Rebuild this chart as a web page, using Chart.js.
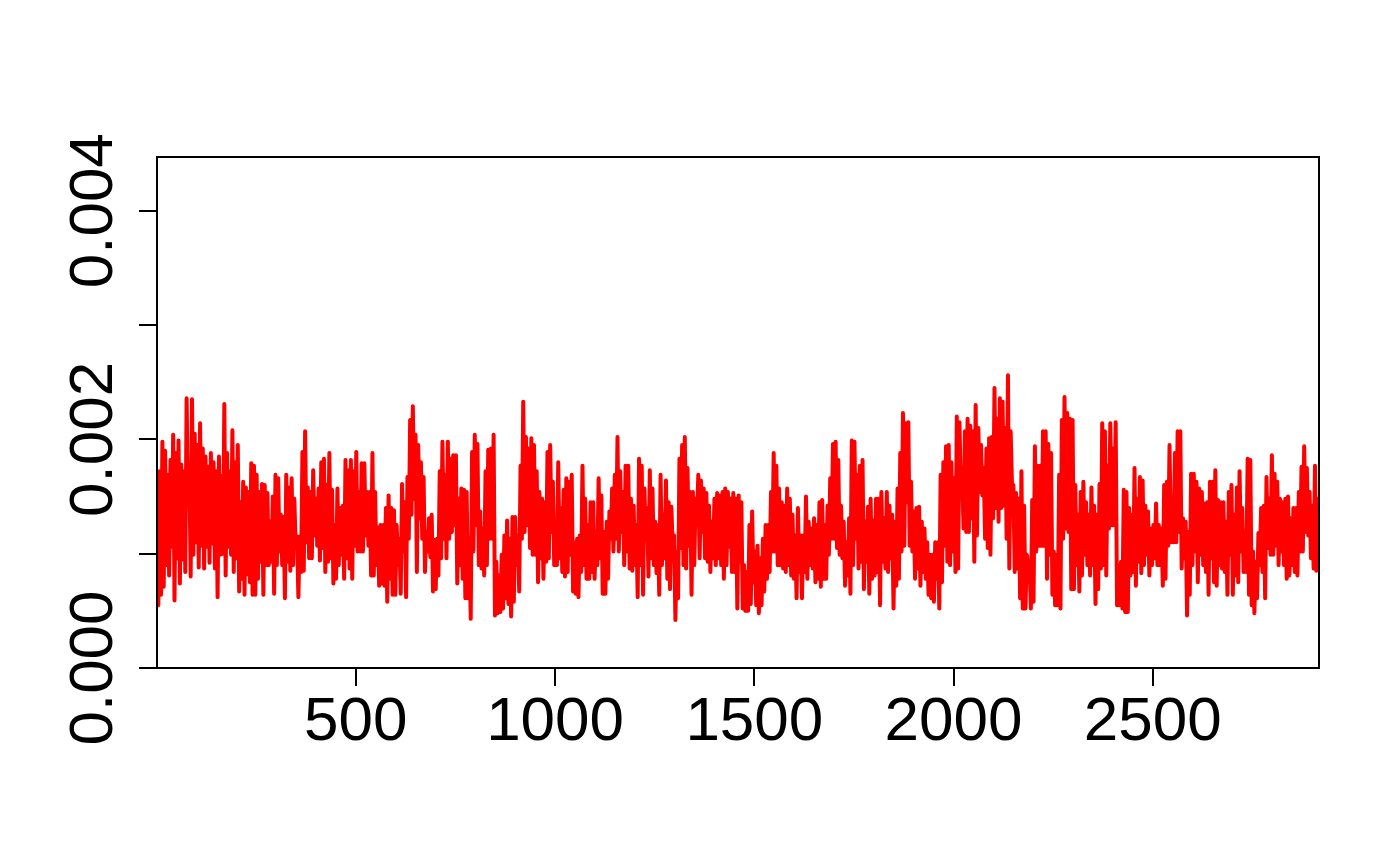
<!DOCTYPE html>
<html>
<head>
<meta charset="utf-8">
<script src="https://cdn.jsdelivr.net/npm/chart.js@4/dist/chart.umd.min.js"></script>
<style>
  html, body { margin: 0; padding: 0; background: #fff; }
  canvas { display: block; }
</style>
</head>
<body>
<canvas id="vol-chart" width="1400" height="865"></canvas>
<script>
// values, alternating local highs / lows, left to right
const vol = [
  0.00157,0.00055,0.00172,0.00064,0.00198,0.00071,0.00190,0.00090,0.00169,0.00081,0.00182,0.00106,0.00204,0.00059,0.00188,0.00096,0.00199,0.00074,0.00178,0.00095,0.00172,0.00084,0.00236,0.00148,0.00177,0.00080,0.00235,0.00099,0.00205,0.00110,0.00195,0.00088,0.00214,0.00107,0.00192,0.00087,0.00185,0.00106,0.00176,0.00092,0.00188,0.00109,0.00180,0.00087,0.00172,0.00062,0.00185,0.00099,0.00168,0.00100,0.00231,0.00081,0.00188,0.00106,0.00172,0.00099,0.00208,0.00084,0.00180,0.00096,0.00195,0.00067,0.00145,0.00078,0.00163,0.00064,0.00158,0.00082,0.00154,0.00075,0.00179,0.00064,
  0.00177,0.00064,0.00169,0.00078,0.00154,0.00093,0.00161,0.00064,0.00160,0.00090,0.00153,0.00090,0.00128,0.00093,0.00150,0.00065,0.00169,0.00090,0.00166,0.00102,0.00134,0.00090,0.00132,0.00061,0.00169,0.00093,0.00158,0.00085,0.00166,0.00090,0.00148,0.00106,0.00115,0.00062,0.00115,0.00084,0.00189,0.00085,0.00207,0.00110,0.00158,0.00096,0.00154,0.00096,0.00173,0.00116,0.00148,0.00107,0.00157,0.00094,0.00180,0.00105,0.00183,0.00084,0.00160,0.00093,0.00188,0.00096,0.00156,0.00074,0.00125,0.00078,0.00157,0.00090,0.00140,0.00099,0.00142,0.00078,0.00182,0.00096,0.00173,0.00087,
  0.00182,0.00078,0.00172,0.00107,0.00189,0.00102,0.00154,0.00102,0.00179,0.00102,0.00179,0.00116,0.00154,0.00107,0.00154,0.00081,0.00188,0.00081,0.00154,0.00090,0.00123,0.00072,0.00125,0.00074,0.00125,0.00072,0.00140,0.00058,0.00151,0.00078,0.00140,0.00064,0.00138,0.00064,0.00125,0.00090,0.00113,0.00065,0.00161,0.00102,0.00145,0.00062,0.00167,0.00113,0.00217,0.00134,0.00229,0.00148,0.00204,0.00084,0.00195,0.00131,0.00180,0.00113,0.00167,0.00084,0.00119,0.00102,0.00131,0.00097,0.00134,0.00067,0.00112,0.00069,0.00113,0.00081,0.00172,0.00096,0.00198,0.00113,0.00169,0.00096,
  0.00198,0.00113,0.00183,0.00119,0.00186,0.00125,0.00186,0.00074,0.00148,0.00090,0.00157,0.00078,0.00156,0.00061,0.00154,0.00061,0.00113,0.00043,0.00189,0.00102,0.00204,0.00125,0.00196,0.00090,0.00137,0.00087,0.00122,0.00081,0.00172,0.00090,0.00191,0.00113,0.00192,0.00113,0.00204,0.00046,0.00093,0.00048,0.00081,0.00049,0.00099,0.00052,0.00116,0.00061,0.00129,0.00056,0.00113,0.00045,0.00132,0.00058,0.00132,0.00090,0.00116,0.00067,0.00177,0.00113,0.00233,0.00119,0.00202,0.00125,0.00192,0.00105,0.00201,0.00099,0.00195,0.00099,0.00172,0.00075,0.00154,0.00096,0.00148,0.00078,
  0.00145,0.00093,0.00189,0.00096,0.00195,0.00119,0.00163,0.00090,0.00125,0.00090,0.00180,0.00096,0.00140,0.00084,0.00156,0.00080,0.00166,0.00084,0.00163,0.00099,0.00169,0.00067,0.00110,0.00065,0.00113,0.00062,0.00116,0.00084,0.00177,0.00090,0.00148,0.00078,0.00125,0.00078,0.00145,0.00084,0.00145,0.00078,0.00119,0.00090,0.00166,0.00096,0.00151,0.00065,0.00119,0.00065,0.00128,0.00078,0.00137,0.00113,0.00157,0.00102,0.00169,0.00113,0.00202,0.00102,0.00172,0.00119,0.00154,0.00090,0.00177,0.00102,0.00177,0.00087,0.00148,0.00085,0.00142,0.00090,0.00125,0.00062,0.00183,0.00090,
  0.00177,0.00064,0.00157,0.00113,0.00140,0.00080,0.00173,0.00096,0.00157,0.00090,0.00128,0.00083,0.00125,0.00064,0.00169,0.00090,0.00134,0.00096,0.00164,0.00078,0.00145,0.00069,0.00141,0.00107,0.00116,0.00042,0.00102,0.00061,0.00183,0.00105,0.00195,0.00090,0.00202,0.00087,0.00175,0.00107,0.00154,0.00064,0.00154,0.00090,0.00148,0.00125,0.00169,0.00096,0.00164,0.00119,0.00157,0.00096,0.00153,0.00093,0.00142,0.00084,0.00128,0.00096,0.00148,0.00090,0.00153,0.00096,0.00151,0.00090,0.00154,0.00078,0.00157,0.00090,0.00154,0.00106,0.00148,0.00084,0.00153,0.00084,0.00148,0.00052,
  0.00151,0.00093,0.00145,0.00052,0.00090,0.00050,0.00084,0.00050,0.00125,0.00056,0.00137,0.00075,0.00102,0.00055,0.00107,0.00048,0.00096,0.00055,0.00113,0.00067,0.00125,0.00078,0.00125,0.00084,0.00154,0.00102,0.00188,0.00102,0.00177,0.00090,0.00157,0.00090,0.00145,0.00087,0.00142,0.00084,0.00157,0.00090,0.00148,0.00081,0.00134,0.00078,0.00116,0.00061,0.00140,0.00084,0.00116,0.00061,0.00116,0.00084,0.00150,0.00078,0.00128,0.00090,0.00122,0.00087,0.00131,0.00075,0.00125,0.00078,0.00145,0.00071,0.00147,0.00078,0.00125,0.00078,0.00142,0.00099,0.00166,0.00113,0.00196,0.00113,
  0.00198,0.00105,0.00182,0.00099,0.00142,0.00096,0.00128,0.00072,0.00110,0.00081,0.00131,0.00065,0.00199,0.00090,0.00198,0.00113,0.00169,0.00087,0.00177,0.00093,0.00182,0.00069,0.00128,0.00093,0.00141,0.00065,0.00148,0.00078,0.00129,0.00081,0.00148,0.00084,0.00148,0.00055,0.00154,0.00093,0.00131,0.00087,0.00154,0.00084,0.00142,0.00096,0.00134,0.00052,0.00128,0.00072,0.00157,0.00078,0.00188,0.00102,0.00223,0.00107,0.00214,0.00145,0.00215,0.00107,0.00163,0.00102,0.00137,0.00078,0.00140,0.00087,0.00141,0.00072,0.00128,0.00084,0.00122,0.00078,0.00110,0.00064,0.00099,0.00061,
  0.00099,0.00058,0.00110,0.00078,0.00110,0.00052,0.00169,0.00075,0.00180,0.00107,0.00194,0.00093,0.00195,0.00090,0.00180,0.00102,0.00166,0.00084,0.00220,0.00087,0.00215,0.00154,0.00169,0.00122,0.00207,0.00119,0.00218,0.00119,0.00212,0.00131,0.00207,0.00093,0.00230,0.00116,0.00210,0.00154,0.00195,0.00151,0.00175,0.00113,0.00192,0.00105,0.00201,0.00099,0.00202,0.00131,0.00245,0.00140,0.00218,0.00128,0.00236,0.00140,0.00233,0.00142,0.00210,0.00113,0.00256,0.00087,0.00207,0.00160,0.00160,0.00084,0.00153,0.00087,0.00148,0.00061,0.00172,0.00052,0.00142,0.00052,0.00099,0.00090,
  0.00093,0.00052,0.00147,0.00058,0.00194,0.00102,0.00177,0.00107,0.00177,0.00107,0.00207,0.00107,0.00207,0.00078,0.00196,0.00099,0.00188,0.00064,0.00102,0.00055,0.00099,0.00055,0.00169,0.00052,0.00217,0.00113,0.00237,0.00122,0.00223,0.00119,0.00218,0.00069,0.00217,0.00069,0.00160,0.00090,0.00134,0.00067,0.00154,0.00081,0.00163,0.00099,0.00145,0.00090,0.00134,0.00081,0.00158,0.00090,0.00142,0.00056,0.00134,0.00069,0.00161,0.00087,0.00214,0.00090,0.00207,0.00081,0.00177,0.00122,0.00214,0.00125,0.00192,0.00125,0.00215,0.00055,0.00090,0.00055,0.00093,0.00052,0.00156,0.00049,
  0.00154,0.00049,0.00140,0.00081,0.00134,0.00084,0.00175,0.00072,0.00148,0.00093,0.00167,0.00083,0.00164,0.00090,0.00142,0.00099,0.00137,0.00081,0.00122,0.00090,0.00125,0.00096,0.00144,0.00090,0.00125,0.00090,0.00122,0.00072,0.00160,0.00078,0.00163,0.00107,0.00195,0.00110,0.00142,0.00110,0.00188,0.00110,0.00207,0.00119,0.00207,0.00087,0.00131,0.00096,0.00128,0.00046,0.00119,0.00064,0.00170,0.00090,0.00170,0.00102,0.00163,0.00075,0.00157,0.00099,0.00154,0.00090,0.00144,0.00084,0.00145,0.00064,0.00163,0.00096,0.00163,0.00075,0.00173,0.00072,0.00147,0.00090,0.00145,0.00087,
  0.00145,0.00084,0.00128,0.00064,0.00154,0.00099,0.00160,0.00064,0.00134,0.00081,0.00158,0.00075,0.00172,0.00102,0.00140,0.00084,0.00102,0.00084,0.00183,0.00064,0.00182,0.00055,0.00102,0.00048,0.00093,0.00061,0.00118,0.00090,0.00140,0.00084,0.00142,0.00061,0.00167,0.00105,0.00148,0.00099,0.00186,0.00099,0.00170,0.00107,0.00163,0.00090,0.00148,0.00102,0.00145,0.00090,0.00148,0.00078,0.00150,0.00081,0.00131,0.00090,0.00140,0.00084,0.00140,0.00081,0.00154,0.00102,0.00176,0.00102,0.00194,0.00119,0.00175,0.00116,0.00154,0.00096,0.00142,0.00087,0.00177,0.00085,0.00148,0.00102
];
const nObs = 2917;            // length of the original series (x runs 1..nObs)
const xTicks = [500, 1000, 1500, 2000, 2500];
const yTicks = [0, 0.001, 0.002, 0.003, 0.004];
const yTickLabels = ['0.000', '', '0.002', '', '0.004'];
const yMax = 0.00447;

const step = (nObs - 1) / (vol.length - 1);
const points = vol.map((v, i) => ({ x: 1 + i * step, y: v }));

const labelFont = '62px "Liberation Sans", Arial, Helvetica, sans-serif';

// base-R look: box round the plot, rotated y labels
const rAxes = {
  id: 'rAxes',
  afterDraw(chart) {
    const ctx = chart.ctx, a = chart.chartArea;
    const xs = chart.scales.x, ys = chart.scales.y;
    ctx.save();
    ctx.strokeStyle = '#000';
    ctx.lineWidth = 2;
    ctx.strokeRect(a.left, a.top, a.right - a.left, a.bottom - a.top);
    ctx.fillStyle = '#000';
    ctx.font = labelFont;
    ctx.textAlign = 'center';
    ctx.textBaseline = 'alphabetic';
    xTicks.forEach(v => ctx.fillText(String(v), xs.getPixelForValue(v), a.bottom + 72));
    yTicks.forEach((v, i) => {
      if (!yTickLabels[i]) return;
      ctx.save();
      ctx.translate(a.left - 45, ys.getPixelForValue(v));
      ctx.rotate(-Math.PI / 2);
      ctx.fillText(yTickLabels[i], 0, 0);
      ctx.restore();
    });
    ctx.restore();
  }
};

const tickGrid = { display: true, drawOnChartArea: false, drawTicks: true, tickLength: 18, color: '#000', lineWidth: 2 };

const config = {
  type: 'line',
  data: {
    datasets: [{
      data: points,
      borderColor: '#ff0000',
      borderWidth: 4,
      borderJoinStyle: 'round',
      borderCapStyle: 'round',
      pointRadius: 0,
      tension: 0,
      fill: false
    }]
  },
  options: {
    responsive: false,
    animation: false,
    devicePixelRatio: 1,
    events: [],
    layout: { padding: { top: 157, right: 81, left: 0, bottom: 0 } },
    plugins: { legend: { display: false }, tooltip: { enabled: false } },
    scales: {
      x: {
        type: 'linear', min: 1, max: nObs,
        grid: tickGrid, border: { display: false },
        ticks: { display: false },
        afterBuildTicks: s => { s.ticks = xTicks.map(v => ({ value: v })); },
        afterFit: s => { s.height = 197; }
      },
      y: {
        type: 'linear', min: 0, max: yMax,
        grid: tickGrid, border: { display: false },
        ticks: { display: false },
        afterBuildTicks: s => { s.ticks = yTicks.map(v => ({ value: v })); },
        afterFit: s => { s.width = 157; }
      }
    }
  },
  plugins: [rAxes]
};

new Chart(document.getElementById('vol-chart').getContext('2d'), config);
</script>
</body>
</html>
